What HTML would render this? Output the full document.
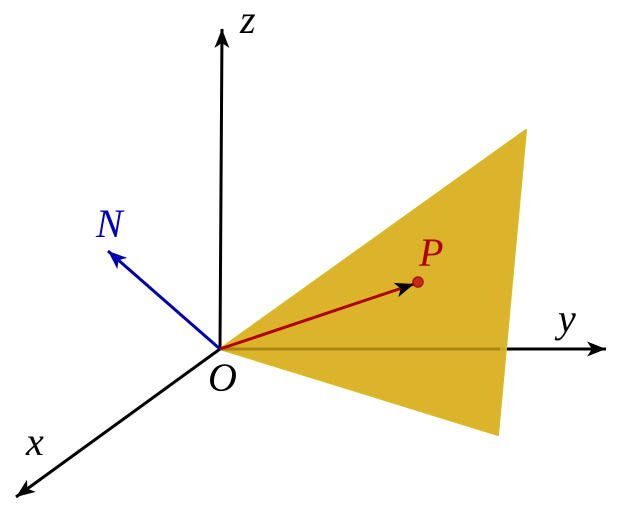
<!DOCTYPE html>
<html><head><style>html,body{margin:0;padding:0;background:#fff}svg{display:block}</style></head>
<body>
<svg width="621" height="512" viewBox="0 0 621 512" xmlns="http://www.w3.org/2000/svg">
<defs>
<marker id="ab" viewBox="-20 -8 21 16" refX="0" refY="0" markerWidth="21" markerHeight="16" markerUnits="userSpaceOnUse" orient="auto"><path d="M0,0 L-19,-7.5 L-14,0 L-19,7.5 Z" fill="#000"/></marker>
<marker id="abl" viewBox="-20 -8 21 16" refX="0" refY="0" markerWidth="21" markerHeight="16" markerUnits="userSpaceOnUse" orient="auto"><path d="M0,0 L-19,-7.5 L-14,0 L-19,7.5 Z" fill="#0000b0"/></marker>
</defs>
<line x1="220" y1="349" x2="606" y2="349" stroke="#000" stroke-width="3" marker-end="url(#ab)"/>
<polygon points="220,349 526,130 498,435" fill="#d9b020" fill-opacity="0.95" stroke="#d8b825" stroke-width="2" stroke-linejoin="round"/>
<line x1="222" y1="349" x2="500" y2="349" stroke="#a88410" stroke-width="3"/>
<line x1="220" y1="349" x2="222" y2="29" stroke="#000" stroke-width="3" marker-end="url(#ab)"/>
<line x1="220" y1="349" x2="16" y2="497" stroke="#000" stroke-width="3" marker-end="url(#ab)"/>
<line x1="220" y1="349" x2="108" y2="251" stroke="#0000b0" stroke-width="3" marker-end="url(#abl)"/>
<circle cx="418" cy="282" r="5" fill="#c03010" stroke="#b01010" stroke-width="1.5"/>
<line x1="220" y1="349" x2="414" y2="284" stroke="#b00000" stroke-width="3" marker-end="url(#ab)"/>
<g font-family="Liberation Serif, serif" font-style="italic" font-size="40">
<text x="240" y="33">z</text>
<text x="558" y="332">y</text>
<text x="26" y="455">x</text>
<text x="208" y="391">O</text>
<text x="96" y="237" fill="#0000c0">N</text>
<text x="419" y="266" fill="#b00000">P</text>
</g>
</svg>
</body></html>
